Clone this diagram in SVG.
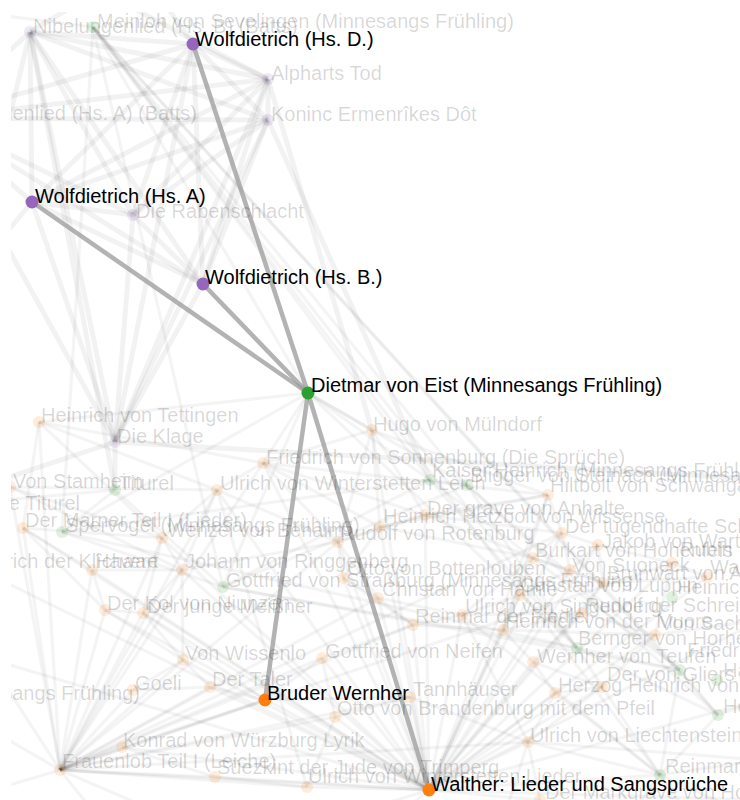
<svg xmlns="http://www.w3.org/2000/svg" width="740" height="800" viewBox="0 0 740 800">
<defs>
<clipPath id="clip"><rect x="11" y="12" width="729" height="788"/></clipPath>
<style>
.e{stroke:#000;stroke-opacity:.05;stroke-width:5;fill:none}
.f{stroke:#000;stroke-opacity:.045;stroke-width:3.2;fill:none}
.m{stroke:#9a9a9a;stroke-opacity:.75;stroke-width:4.5;fill:none}
text{font-family:"Liberation Sans",Arial,Helvetica,sans-serif;font-size:20px}
.ft{fill:#000;fill-opacity:.16}
.mt{fill:#000}
.o{fill:#ff7f0e;fill-opacity:.15}
.p{fill:#9467bd;fill-opacity:.15}
.g{fill:#2ca02c;fill-opacity:.15}
.O{fill:#ff7f0e}
.P{fill:#9467bd}
.G{fill:#2ca02c}
</style>
</defs>
<rect width="740" height="800" fill="#fff"/>
<g clip-path="url(#clip)">
<g id="connectors">
<g id="faded-top">
<path class="e" d="M30 32L193 44"/><path class="e" d="M30 32L32 202"/><path class="e" d="M30 32L203 284"/><path class="e" d="M30 32L133 215"/><path class="e" d="M30 32L268 79"/><path class="e" d="M30 32L268 120"/><path class="e" d="M30 32L115 442"/><path class="e" d="M30 32L-64 118"/><path class="e" d="M30 32L-84 508"/><path class="e" d="M30 32L115 490"/>
<path class="e" d="M-64 118L193 44"/><path class="e" d="M-64 118L203 284"/><path class="e" d="M-64 118L268 79"/><path class="e" d="M-64 118L268 120"/><path class="e" d="M-64 118L133 215"/><path class="e" d="M-64 118L115 442"/><path class="e" d="M-64 118L32 202"/>
<path class="e" d="M193 44L268 79"/><path class="e" d="M193 44L268 120"/><path class="e" d="M193 44L32 202"/><path class="e" d="M193 44L203 284"/><path class="e" d="M193 44L133 215"/><path class="e" d="M193 44L115 442"/>
<path class="e" d="M32 202L203 284"/><path class="e" d="M32 202L133 215"/><path class="e" d="M32 202L268 79"/><path class="e" d="M32 202L268 120"/><path class="e" d="M32 202L115 442"/>
<path class="e" d="M203 284L268 79"/><path class="e" d="M203 284L268 120"/><path class="e" d="M203 284L133 215"/><path class="e" d="M203 284L115 442"/>
<path class="e" d="M268 79L268 120"/><path class="e" d="M268 79L133 215"/><path class="e" d="M268 79L115 442"/><path class="e" d="M268 120L133 215"/><path class="e" d="M268 120L115 442"/><path class="e" d="M133 215L115 442"/><path class="e" d="M115 442L115 490"/><path class="e" d="M115 442L-84 508"/>
<path class="e" d="M193 44L120 -60"/><path class="e" d="M30 32L150 -40"/><path class="e" d="M268 79L60 -30"/><path class="e" d="M32 202L-50 300"/><path class="e" d="M268 79L372 430"/><path class="e" d="M268 120L430 480"/><path class="e" d="M115 442L740 478"/>
<path class="f" d="M93 27L308 393"/><path class="f" d="M93 27L430 480"/><path class="f" d="M93 27L467 485"/><path class="f" d="M93 27L62 532"/><path class="f" d="M93 27L223 587"/><path class="f" d="M93 27L577 648"/><path class="f" d="M93 27L680 670"/><path class="f" d="M93 27L718 715"/><path class="f" d="M93 27L660 775"/><path class="f" d="M93 27L-40 10"/>
</g>
<g id="faded-bottom">
<path class="f" d="M39 422L217 490"/><path class="f" d="M39 422L162 538"/><path class="f" d="M39 422L23 528"/><path class="f" d="M39 422L308 393"/><path class="f" d="M39 422L263 463"/><path class="f" d="M39 422L60 770"/>
<path class="f" d="M263 463L372 430"/><path class="f" d="M263 463L217 490"/><path class="f" d="M263 463L338 542"/><path class="f" d="M263 463L425 515"/><path class="f" d="M263 463L380 527"/><path class="f" d="M263 463L548 495"/><path class="f" d="M263 463L429 790"/><path class="f" d="M263 463L60 770"/><path class="f" d="M263 463L308 393"/>
<path class="f" d="M372 430L308 393"/><path class="f" d="M372 430L425 515"/><path class="f" d="M372 430L380 527"/><path class="f" d="M372 430L338 542"/><path class="f" d="M372 430L548 495"/><path class="f" d="M372 430L429 790"/>
<path class="f" d="M10 487L217 490"/><path class="f" d="M10 487L162 538"/><path class="f" d="M10 487L60 770"/><path class="f" d="M10 487L182 570"/>
<path class="f" d="M115 490L-84 508"/><path class="f" d="M115 490L62 532"/><path class="f" d="M115 490L223 587"/>
<path class="f" d="M217 490L162 538"/><path class="f" d="M217 490L182 570"/><path class="f" d="M217 490L338 542"/><path class="f" d="M217 490L307 787"/><path class="f" d="M217 490L429 790"/><path class="f" d="M217 490L60 770"/>
<path class="f" d="M430 480L467 485"/><path class="f" d="M430 480L308 393"/><path class="f" d="M430 480L223 587"/><path class="f" d="M430 480L577 648"/><path class="f" d="M430 480L680 670"/><path class="f" d="M430 480L62 532"/>
<path class="f" d="M467 485L308 393"/><path class="f" d="M467 485L577 648"/><path class="f" d="M467 485L680 670"/><path class="f" d="M467 485L718 715"/><path class="f" d="M467 485L223 587"/>
<path class="f" d="M548 495L425 515"/><path class="f" d="M548 495L380 527"/><path class="f" d="M548 495L562 533"/><path class="f" d="M548 495L429 790"/><path class="f" d="M548 495L503 630"/>
<path class="f" d="M425 515L380 527"/><path class="f" d="M425 515L338 542"/><path class="f" d="M425 515L562 533"/><path class="f" d="M425 515L533 558"/><path class="f" d="M425 515L429 790"/>
<path class="f" d="M380 527L338 542"/><path class="f" d="M380 527L533 558"/><path class="f" d="M380 527L429 790"/><path class="f" d="M380 527L343 578"/>
<path class="f" d="M338 542L343 578"/><path class="f" d="M338 542L378 598"/><path class="f" d="M338 542L429 790"/><path class="f" d="M338 542L60 770"/><path class="f" d="M338 542L182 570"/>
<path class="f" d="M562 533L598 545"/><path class="f" d="M562 533L533 558"/><path class="f" d="M562 533L570 570"/><path class="f" d="M562 533L429 790"/><path class="f" d="M562 533L60 770"/>
<path class="f" d="M598 545L672 563"/><path class="f" d="M598 545L570 570"/><path class="f" d="M598 545L429 790"/><path class="f" d="M598 545L603 583"/>
<path class="f" d="M533 558L570 570"/><path class="f" d="M533 558L603 583"/><path class="f" d="M533 558L429 790"/><path class="f" d="M533 558L462 615"/>
<path class="f" d="M570 570L603 583"/><path class="f" d="M570 570L429 790"/><path class="f" d="M570 570L520 595"/>
<path class="f" d="M672 563L707 577"/><path class="f" d="M672 563L429 790"/><path class="f" d="M672 563L60 770"/><path class="f" d="M672 563L655 635"/>
<path class="f" d="M707 577L429 790"/><path class="f" d="M707 577L603 583"/><path class="f" d="M603 583L429 790"/><path class="f" d="M603 583L582 613"/>
<path class="f" d="M23 528L60 770"/><path class="f" d="M23 528L162 538"/><path class="f" d="M23 528L92 570"/><path class="f" d="M23 528L429 790"/><path class="f" d="M23 528L105 610"/>
<path class="f" d="M62 532L223 587"/><path class="f" d="M62 532L308 393"/><path class="f" d="M62 532L577 648"/>
<path class="f" d="M162 538L60 770"/><path class="f" d="M162 538L429 790"/><path class="f" d="M162 538L182 570"/><path class="f" d="M162 538L143 613"/>
<path class="f" d="M92 570L60 770"/><path class="f" d="M92 570L182 570"/><path class="f" d="M92 570L429 790"/><path class="f" d="M92 570L105 610"/>
<path class="f" d="M182 570L60 770"/><path class="f" d="M182 570L429 790"/><path class="f" d="M182 570L143 613"/><path class="f" d="M182 570L183 660"/>
<path class="f" d="M223 587L308 393"/><path class="f" d="M223 587L577 648"/><path class="f" d="M223 587L680 670"/>
<path class="f" d="M343 578L378 598"/><path class="f" d="M343 578L429 790"/><path class="f" d="M343 578L413 625"/>
<path class="f" d="M378 598L429 790"/><path class="f" d="M378 598L413 625"/><path class="f" d="M378 598L462 615"/><path class="f" d="M378 598L60 770"/>
<path class="f" d="M520 595L429 790"/><path class="f" d="M520 595L462 615"/><path class="f" d="M520 595L503 630"/>
<path class="f" d="M105 610L60 770"/><path class="f" d="M105 610L143 613"/><path class="f" d="M105 610L429 790"/><path class="f" d="M105 610L183 660"/>
<path class="f" d="M143 613L60 770"/><path class="f" d="M143 613L429 790"/><path class="f" d="M143 613L265 700"/><path class="f" d="M143 613L183 660"/>
<path class="f" d="M183 660L60 770"/><path class="f" d="M183 660L429 790"/><path class="f" d="M183 660L210 687"/><path class="f" d="M183 660L133 690"/>
<path class="f" d="M322 658L429 790"/><path class="f" d="M322 658L335 717"/><path class="f" d="M322 658L265 700"/><path class="f" d="M322 658L60 770"/><path class="f" d="M322 658L413 625"/>
<path class="f" d="M133 690L60 770"/><path class="f" d="M133 690L210 687"/>
<path class="f" d="M210 687L60 770"/><path class="f" d="M210 687L429 790"/><path class="f" d="M210 687L265 700"/>
<path class="f" d="M335 717L429 790"/><path class="f" d="M335 717L60 770"/><path class="f" d="M335 717L410 697"/><path class="f" d="M335 717L307 787"/>
<path class="f" d="M410 697L429 790"/><path class="f" d="M410 697L265 700"/><path class="f" d="M410 697L60 770"/><path class="f" d="M410 697L528 742"/>
<path class="f" d="M122 747L60 770"/><path class="f" d="M122 747L429 790"/><path class="f" d="M122 747L215 777"/><path class="f" d="M122 747L265 700"/>
<path class="f" d="M60 770L429 790"/><path class="f" d="M60 770L265 700"/><path class="f" d="M60 770L-50 600"/><path class="f" d="M60 770L-40 800"/><path class="f" d="M60 770L100 820"/><path class="f" d="M60 770L200 830"/><path class="f" d="M60 770L-60 700"/><path class="f" d="M60 770L528 742"/>
<path class="f" d="M215 777L429 790"/><path class="f" d="M215 777L60 770"/><path class="f" d="M215 777L307 787"/><path class="f" d="M307 787L429 790"/><path class="f" d="M307 787L60 770"/>
<path class="f" d="M413 625L429 790"/><path class="f" d="M413 625L462 615"/><path class="f" d="M413 625L503 630"/><path class="f" d="M413 625L60 770"/>
<path class="f" d="M503 630L429 790"/><path class="f" d="M503 630L582 613"/><path class="f" d="M503 630L533 662"/><path class="f" d="M503 630L655 635"/>
<path class="f" d="M462 615L429 790"/><path class="f" d="M462 615L582 613"/><path class="f" d="M462 615L660 775"/><path class="f" d="M462 615L528 742"/>
<path class="f" d="M582 613L429 790"/><path class="f" d="M582 613L655 635"/><path class="f" d="M582 613L533 662"/>
<path class="f" d="M655 635L429 790"/><path class="f" d="M655 635L602 687"/><path class="f" d="M655 635L760 620"/>
<path class="f" d="M577 648L680 670"/><path class="f" d="M577 648L718 715"/><path class="f" d="M577 648L308 393"/><path class="f" d="M577 648L660 775"/>
<path class="f" d="M533 662L429 790"/><path class="f" d="M533 662L602 687"/><path class="f" d="M533 662L555 693"/>
<path class="f" d="M680 670L718 715"/><path class="f" d="M680 670L660 775"/>
<path class="f" d="M602 687L429 790"/><path class="f" d="M602 687L555 693"/><path class="f" d="M602 687L528 742"/>
<path class="f" d="M555 693L429 790"/><path class="f" d="M555 693L528 742"/><path class="f" d="M555 693L660 775"/>
<path class="f" d="M528 742L429 790"/><path class="f" d="M528 742L660 775"/><path class="f" d="M528 742L540 800"/><path class="f" d="M528 742L760 760"/><path class="f" d="M528 742L500 830"/>
<path class="f" d="M718 715L660 775"/><path class="f" d="M718 715L760 700"/>
<path class="f" d="M660 775L429 790"/><path class="f" d="M660 775L760 760"/><path class="f" d="M660 775L760 820"/><path class="f" d="M660 775L700 830"/><path class="f" d="M660 775L620 830"/>
<path class="f" d="M540 800L429 790"/><path class="f" d="M429 790L760 620"/><path class="f" d="M429 790L760 700"/><path class="f" d="M429 790L760 800"/><path class="f" d="M429 790L380 830"/><path class="f" d="M429 790L300 830"/><path class="f" d="M429 790L-40 650"/><path class="f" d="M429 790L-40 560"/>
</g>
<g id="highlighted">
<path class="m" d="M193 44L308 393"/>
<path class="m" d="M32 202L308 393"/>
<path class="m" d="M203 284L308 393"/>
<path class="m" d="M308 393L265 700"/>
<path class="m" d="M308 393L429 790"/>
</g>
</g>
<g id="faded-nodes">
<g id="n-nibB"><circle class="p" cx="30" cy="32" r="6"/><text class="ft" x="33" y="33">Nibelungenlied (Hs. B) (Batts)</text></g>
<g id="n-meinloh"><circle class="g" cx="93" cy="27" r="6"/><text class="ft" x="97" y="28">Meinloh von Sevelingen (Minnesangs Frühling)</text></g>
<g id="n-alpharts"><circle class="p" cx="268" cy="79" r="6"/><text class="ft" x="271" y="80">Alpharts Tod</text></g>
<g id="n-koninc"><circle class="p" cx="268" cy="120" r="6"/><text class="ft" x="271" y="121">Koninc Ermenrîkes Dôt</text></g>
<g id="n-nibA"><circle class="p" cx="-64" cy="118" r="6"/><text class="ft" x="197" y="120" text-anchor="end">Nibelungenlied (Hs. A) (Batts)</text></g>
<g id="n-raben"><circle class="p" cx="133" cy="215" r="6"/><text class="ft" x="136" y="218">Die Rabenschlacht</text></g>
<g id="n-tettingen"><circle class="o" cx="39" cy="422" r="6"/><text class="ft" x="41" y="422">Heinrich von Tettingen</text></g>
<g id="n-klage"><circle class="p" cx="115" cy="442" r="6"/><text class="ft" x="117" y="443">Die Klage</text></g>
<g id="n-muelndorf"><circle class="o" cx="372" cy="430" r="6"/><text class="ft" x="373" y="431">Hugo von Mülndorf</text></g>
<g id="n-sonnenburg"><circle class="o" cx="263" cy="463" r="6"/><text class="ft" x="266" y="464">Friedrich von Sonnenburg (Die Sprüche)</text></g>
<g id="n-stamheim"><circle class="o" cx="10" cy="487" r="6"/><text class="ft" x="13" y="488">Von Stamheim</text></g>
<g id="n-titurel"><circle class="g" cx="115" cy="490" r="6"/><text class="ft" x="119" y="490">Titurel</text></g>
<g id="n-jtiturel"><circle class="p" cx="-84" cy="508" r="6"/><text class="ft" x="80" y="510" text-anchor="end">Der jüngere Titurel</text></g>
<g id="n-wleich"><circle class="o" cx="217" cy="490" r="6"/><text class="ft" x="220" y="490">Ulrich von Winterstetten Leich</text></g>
<g id="n-kaiser"><circle class="g" cx="430" cy="480" r="6"/><text class="ft" x="432" y="477">Kaiser Heinrich (Minnesangs Frühling)</text></g>
<g id="n-bligger"><circle class="g" cx="467" cy="485" r="6"/><text class="ft" x="470" y="482">Bligger von Steinach (Minnesangs Frühling)</text></g>
<g id="n-hiltbolt"><circle class="o" cx="548" cy="495" r="6"/><text class="ft" x="550" y="492">Hiltbolt von Schwangau</text></g>
<g id="n-marner"><circle class="o" cx="23" cy="528" r="6"/><text class="ft" x="25" y="527">Der Marner Teil I (Lieder)</text></g>
<g id="n-spervogel"><circle class="g" cx="62" cy="532" r="6"/><text class="ft" x="65" y="532">Spervogel (Minnesangs Frühling)</text></g>
<g id="n-wenzel"><circle class="o" cx="162" cy="538" r="6"/><text class="ft" x="167" y="537">Wenzel von Behaim</text></g>
<g id="n-anhalte"><circle class="o" cx="425" cy="515" r="6"/><text class="ft" x="427" y="515">Der grave von Anhalte</text></g>
<g id="n-hetzbolt"><circle class="o" cx="380" cy="527" r="6"/><text class="ft" x="383" y="523">Heinrich Hetzbolt von Wissense</text></g>
<g id="n-rotenburg"><circle class="o" cx="338" cy="542" r="6"/><text class="ft" x="340" y="540">Rudolf von Rotenburg</text></g>
<g id="n-tugend"><circle class="o" cx="562" cy="533" r="6"/><text class="ft" x="565" y="533">Der tugendhafte Schreiber</text></g>
<g id="n-jakob"><circle class="o" cx="598" cy="545" r="6"/><text class="ft" x="602" y="548">Jakob von Warte</text></g>
<g id="n-burkart"><circle class="o" cx="533" cy="558" r="6"/><text class="ft" x="535" y="557">Burkart von Hohenfels</text></g>
<g id="n-rubin"><circle class="o" cx="672" cy="563" r="6"/><text class="ft" x="680" y="556">Rubin</text></g>
<g id="n-klichaere"><circle class="o" cx="-38" cy="568" r="6"/><text class="ft" x="-35" y="568">Heinrich der Klîchære</text></g>
<g id="n-hawart"><circle class="o" cx="92" cy="570" r="6"/><text class="ft" x="95" y="568">Hawart</text></g>
<g id="n-ringgenberg"><circle class="o" cx="182" cy="570" r="6"/><text class="ft" x="185" y="568">Johann von Ringgenberg</text></g>
<g id="n-suoneck"><circle class="o" cx="570" cy="570" r="6"/><text class="ft" x="572" y="572">Von Suoneck</text></g>
<g id="n-wklingen"><circle class="o" cx="707" cy="577" r="6"/><text class="ft" x="710" y="574">Walther von Klingen</text></g>
<g id="n-bottenlouben"><circle class="o" cx="343" cy="578" r="6"/><text class="ft" x="347" y="575">Otto von Bottenlouben</text></g>
<g id="n-brunwart"><circle class="o" cx="603" cy="583" r="6"/><text class="ft" x="607" y="580">Brunwart von Augheim</text></g>
<g id="n-gstrassburg"><circle class="g" cx="223" cy="587" r="6"/><text class="ft" x="226" y="587">Gottfried von Straßburg (Minnesangs Frühling)</text></g>
<g id="n-hamle"><circle class="o" cx="378" cy="598" r="6"/><text class="ft" x="382" y="596">Christan von Hamle</text></g>
<g id="n-luppin"><circle class="o" cx="520" cy="595" r="6"/><text class="ft" x="520" y="592">Christan von Luppin</text></g>
<g id="n-kol"><circle class="o" cx="105" cy="610" r="6"/><text class="ft" x="107" y="610">Der Kol von Niunzen</text></g>
<g id="n-meissner"><circle class="o" cx="143" cy="613" r="6"/><text class="ft" x="147" y="613">Der junge Meißner</text></g>
<g id="n-fiedler"><circle class="o" cx="413" cy="625" r="6"/><text class="ft" x="415" y="623">Reinmar der Fiedler</text></g>
<g id="n-singenberg"><circle class="o" cx="462" cy="615" r="6"/><text class="ft" x="465" y="613">Ulrich von Singenberg</text></g>
<g id="n-muore"><circle class="o" cx="503" cy="630" r="6"/><text class="ft" x="505" y="628">Heinrich von der Muore</text></g>
<g id="n-schreiber"><circle class="o" cx="582" cy="613" r="6"/><text class="ft" x="585" y="612">Rudolf der Schreiber</text></g>
<g id="n-sax"><circle class="g" cx="672" cy="597" r="6"/><text class="ft" x="677" y="594">Heinrich von Sax</text></g>
<g id="n-sachsendorf"><circle class="o" cx="655" cy="635" r="6"/><text class="ft" x="660" y="630">Von Sachsendorf</text></g>
<g id="n-bernger"><circle class="g" cx="577" cy="648" r="6"/><text class="ft" x="578" y="645">Bernger von Horheim</text></g>
<g id="n-teufen"><circle class="o" cx="533" cy="662" r="6"/><text class="ft" x="537" y="663">Wernher von Teufen</text></g>
<g id="n-hausen"><circle class="g" cx="680" cy="670" r="6"/><text class="ft" x="687" y="657">Friedrich von Hausen</text></g>
<g id="n-hartmann"><circle class="g" cx="717" cy="680" r="6"/><text class="ft" x="723" y="677">Hartmann von Aue</text></g>
<g id="n-gliers"><circle class="o" cx="602" cy="687" r="6"/><text class="ft" x="607" y="681">Der von Gliers</text></g>
<g id="n-herzog"><circle class="o" cx="555" cy="693" r="6"/><text class="ft" x="558" y="692">Herzog Heinrich von Pressela</text></g>
<g id="n-veldeke"><circle class="g" cx="718" cy="715" r="6"/><text class="ft" x="723" y="713">Heinrich von Veldeke</text></g>
<g id="n-wissenlo"><circle class="o" cx="183" cy="660" r="6"/><text class="ft" x="185" y="660">Von Wissenlo</text></g>
<g id="n-neifen"><circle class="o" cx="322" cy="658" r="6"/><text class="ft" x="325" y="658">Gottfried von Neifen</text></g>
<g id="n-goeli"><circle class="o" cx="133" cy="690" r="6"/><text class="ft" x="135" y="690">Goeli</text></g>
<g id="n-taler"><circle class="o" cx="210" cy="687" r="6"/><text class="ft" x="212" y="686">Der Taler</text></g>
<g id="n-morungen"><circle class="g" cx="-60" cy="700" r="6"/><text class="ft" x="140" y="700" text-anchor="end">Heinrich von Morungen (Minnesangs Frühling)</text></g>
<g id="n-tannhaeuser"><circle class="o" cx="410" cy="697" r="6"/><text class="ft" x="413" y="696">Tannhäuser</text></g>
<g id="n-brandenburg"><circle class="o" cx="335" cy="717" r="6"/><text class="ft" x="337" y="715">Otto von Brandenburg mit dem Pfeil</text></g>
<g id="n-liechtenstein"><circle class="o" cx="528" cy="742" r="6"/><text class="ft" x="530" y="742">Ulrich von Liechtenstein</text></g>
<g id="n-konrad"><circle class="o" cx="122" cy="747" r="6"/><text class="ft" x="123" y="747">Konrad von Würzburg Lyrik</text></g>
<g id="n-frauenlob"><circle class="o" cx="60" cy="770" r="6"/><text class="ft" x="62" y="768">Frauenlob Teil I (Leiche)</text></g>
<g id="n-suezkint"><circle class="o" cx="215" cy="777" r="6"/><text class="ft" x="217" y="774">Süezkint der Jude von Trimperg</text></g>
<g id="n-reinmar"><circle class="g" cx="660" cy="775" r="6"/><text class="ft" x="665" y="773">Reinmar der Alte</text></g>
<g id="n-wlieder"><circle class="o" cx="307" cy="787" r="6"/><text class="ft" x="308" y="783">Ulrich von Winterstetten Lieder</text></g>
<g id="n-markgrave"><circle class="o" cx="540" cy="800" r="6"/><text class="ft" x="545" y="799">Der Markgrave von Hohenburg</text></g>
</g>
<g id="main-nodes">
<g id="n-wolfD"><circle class="P" cx="193" cy="44" r="6.5"/><text class="mt" x="195" y="46">Wolfdietrich (Hs. D.)</text></g>
<g id="n-wolfA"><circle class="P" cx="32" cy="202" r="6.5"/><text class="mt" x="35" y="203">Wolfdietrich (Hs. A)</text></g>
<g id="n-wolfB"><circle class="P" cx="203" cy="284" r="6.5"/><text class="mt" x="205" y="284">Wolfdietrich (Hs. B.)</text></g>
<g id="n-dietmar"><circle class="G" cx="308" cy="393" r="6.5"/><text class="mt" x="311" y="392">Dietmar von Eist (Minnesangs Frühling)</text></g>
<g id="n-wernher"><circle class="O" cx="265" cy="700" r="6.5"/><text class="mt" x="267" y="700">Bruder Wernher</text></g>
<g id="n-walther"><circle class="O" cx="429" cy="790" r="6.5"/><text class="mt" x="431" y="791">Walther: Lieder und Sangsprüche</text></g>
</g>
</g>
</svg>
